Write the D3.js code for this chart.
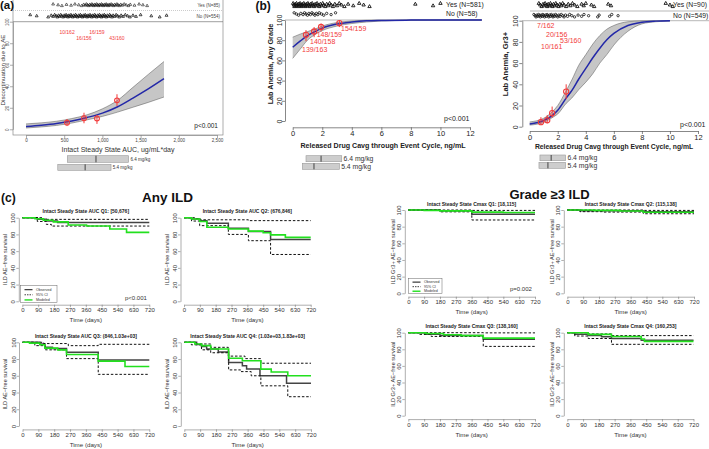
<!DOCTYPE html>
<html><head><meta charset="utf-8">
<script src="https://cdn.jsdelivr.net/npm/d3@7"></script>
<style>
body{margin:0;background:#fff}
svg{display:block;font-family:"Liberation Sans",Arial,Helvetica,sans-serif}
</style>
</head><body>
<svg id="chart" width="709" height="449"></svg>
<script>
// ---------------- DATA ----------------
// Panel (a): discontinuation due to AE vs intact steady state AUC
const aCurveX   = [0,200,400,600,800,1000,1200,1400,1600,1806];
const aCurveFit = [2.5,3.7,5.3,7.7,11,15,21,29,37.5,47];
const aCurveLo  = [1.2,2.2,3.6,5.8,8.8,12,16,20.5,25,30];
const aCurveHi  = [5,6,7.5,10,13.5,19,27,39,51,63];
const aPointX   = [537,759,929,1191];
const aPointY   = [6.2,10.3,10.1,26.9];
const aPointLo  = [3,5.6,5,21.7];
const aPointHi  = [9.6,15.4,13.3,32.6];
const aPointLabels = ["10/162","16/156","16/159","43/160"];
const aRugYes = [355,420,470,530,590,640,690,730,755,775,790,805,820,835,850,862,875,888,900,912,925,938,950,962,975,988,1000,1012,1025,1038,1050,1062,1075,1088,1100,1115,1130,1145,1160,1175,1190,1205,1220,1240,1260,1285,1310,1340,1365,1420,1480,1530,1585];
const aRugNo = [55,140,290,330,355,375,395,410,425,440,455,470,485,500,512,525,538,550,562,575,588,600,612,625,638,650,662,675,688,700,712,725,738,750,762,775,788,800,812,825,838,850,862,875,888,900,912,925,938,950,962,975,988,1000,1012,1025,1038,1050,1065,1080,1095,1110,1125,1140,1160,1180,1200,1220,1245,1270,1300,1330,1360,1400,1440,1500,1640,1750,1840];
const aRugLabels = ["Yes (N=85)","No (N=554)"];
const aDoseLabels = ["6.4 mg/kg","5.4 mg/kg"];
const aDoseStats = [[541,916,1344],[416,774,1113]];
const aTicksX = [0,500,1000,1500,2000,2500];

// Panel (b) left: lab anemia any grade
const bLX   = [0,0.5,1,1.5,2,3,4,5,6,8,10,12.8];
const bLFit = [73,79,84.5,88.5,92,96,98,99.2,99.6,99.9,100,100];
const bLLo  = [62,71,80,85.5,89.5,94,96.5,98,99,99.8,100,100];
const bLHi  = [83,86,88.5,91,94,97.5,99,99.7,99.9,100,100,100];
const bLPtX = [0.9,1.45,1.92,3.16];
const bLPtY = [85.3,88.6,93.1,96.9];
const bLPtLo = [79,83,88.5,93];
const bLPtHi = [90,93,96.5,99];
const bLPtLabels = ["139/163","140/158","148/159","154/159"];
const bLRugYes = [0.03,0.08,0.12,0.17,0.22,0.26,0.31,0.36,0.4,0.45,0.5,0.55,0.6,0.64,0.7,0.75,0.8,0.86,0.92,0.97,1.03,1.08,1.14,1.2,1.26,1.32,1.38,1.45,1.52,1.58,1.65,1.72,1.8,1.87,1.95,2.03,2.1,2.2,2.3,2.4,2.5,2.6,2.72,2.85,3.0,3.15,3.3,3.5,3.75,4.1,4.5,4.8,5.2,8.3,9.5,10.0];
const bLRugNo = [0.1,0.25,0.4,0.55,0.7,0.8,0.9,1.0,1.1,1.2,1.3,1.4,1.5,1.6,1.7,1.8,1.95,2.1,2.3,2.6,2.9];
const bLRugLabels = ["Yes (N=581)","No (N=58)"];
const bLDoseStats = [[0.9,1.92,3.32],[0.65,1.44,3.16]];

// Panel (b) right: lab anemia grade 3+
const bRX   = [0,1,1.6,2,2.6,3,3.5,4,4.5,5,5.5,6,7,8,9,10];
const bRFit = [2.5,5.8,10.5,15.5,27,34,45,55,65,74,82,88,95.5,98.5,99.6,100];
const bRLo  = [1.5,4,8.5,12,22,27,35,42,50,60,68,77,90,97,99,99.7];
const bRHi  = [4.5,8,14,20,34,44,58,68,78,86,92,95.5,99,99.8,100,100];
const bRPtX = [0.8,1.25,1.6,2.6];
const bRPtY = [4.3,6.2,12.8,33.1];
const bRPtLo = [2,3,8.5,26];
const bRPtHi = [9,11,19,40];
const bRPtLabels = ["7/162","10/161","20/156","53/160"];
const bRRugYes = [0.65,0.75,0.85,0.95,1.02,1.1,1.18,1.25,1.32,1.4,1.48,1.55,1.62,1.7,1.78,1.86,1.95,2.05,2.15,2.25,2.35,2.45,2.6,2.75,2.9,3.05,3.2,3.4,3.7,3.85,4.0,4.4,4.6,5.6,5.8,9.7,10.0,10.2];
const bRRugNo = [0.3,0.38,0.45,0.52,0.58,0.64,0.7,0.76,0.82,0.88,0.94,1.0,1.06,1.12,1.18,1.24,1.3,1.36,1.42,1.48,1.54,1.6,1.66,1.72,1.78,1.85,1.92,2.0,2.08,2.16,2.25,2.35,2.45,2.55,2.7,2.85,3.0,3.2,3.45,3.7,3.87,4.2,4.85,4.95,5.7,5.85,6.3];
const bRRugLabels = ["Yes (N=90)","No (N=549)"];
const bRDoseStats = [[0.73,1.53,2.56],[0.66,1.30,2.56]];
const bDoseLabels = ["6.4 mg/kg","5.4 mg/kg"];
const bTicksX = [0,2,4,6,8,10,12];
const pctTicks = [0,20,40,60,80,100];

// Panel (c): Kaplan-Meier, [day, % AE-free]
const kmTicksX = [0,90,180,270,360,450,540,630,720];
const anyTitles = ["Intact Steady State AUC Q1: [50,676]","Intact Steady State AUC Q2: (676,846]","Intact Steady State AUC Q3: (846,1.03e+03]","Intact Steady State AUC Q4: (1.03e+03,1.83e+03]"];
const anyQ1Obs = [[0,100],[85,98],[136,96],[200,94.4],[720,94.4]];
const anyQ1Hi  = [[0,100],[116,98],[720,98]];
const anyQ1Lo  = [[0,100],[85,95.5],[136,92],[165,90],[720,90]];
const anyQ1Mod = [[0,100],[72,98.7],[119,97],[176,95],[260,91.3],[364,90],[496,86.5],[591,82.5],[720,82.5]];
const anyQ2Obs = [[0,100],[43,98.4],[89,96.4],[130,93.5],[252,87.5],[366,83.5],[492,74],[720,74]];
const anyQ2Hi  = [[0,100],[60,99],[92,97.5],[366,96.5],[720,96.5]];
const anyQ2Lo  = [[0,100],[43,96],[89,90.5],[252,80],[366,72.5],[492,56],[720,56]];
const anyQ2Mod = [[0,100],[43,98.5],[89,95.5],[130,88.5],[252,86.5],[366,84],[450,82],[492,79.5],[576,76.5],[720,76.5]];
const anyQ3Obs = [[0,100],[98,98],[127,94],[170,92.5],[250,88],[430,79],[720,79]];
const anyQ3Hi  = [[0,100],[120,98.5],[260,96],[430,97.6],[720,97.6]];
const anyQ3Lo  = [[0,100],[70,96],[130,91],[250,80.5],[430,61.7],[720,61.7]];
const anyQ3Mod = [[0,100],[40,99],[98,97],[127,93],[200,91],[250,85.5],[430,77.5],[582,71],[720,71]];
const anyQ4Obs = [[0,100],[70,97.5],[98,95],[127,92],[193,88.5],[252,76],[330,72],[354,68],[430,60],[581,51],[720,51]];
const anyQ4Hi  = [[0,100],[70,98],[150,94],[250,83.5],[345,80.5],[435,75],[720,75]];
const anyQ4Lo  = [[0,100],[40,97],[98,91],[150,87.5],[252,67],[320,65],[380,60],[435,48],[588,35],[720,35]];
const anyQ4Mod = [[0,100],[60,98],[98,96],[150,92],[252,81],[330,78],[435,68],[494,64.5],[588,60],[720,60]];

const grTitles = ["Intact Steady State Cmax Q1: [18,115]","Intact Steady State Cmax Q2: (115,138]","Intact Steady State Cmax Q3: (138,160]","Intact Steady State Cmax Q4: (160,253]"];
const grQ1Obs = [[0,100],[180,99],[361,94.8],[720,94.8]];
const grQ1Hi  = [[0,100],[361,99.5],[720,99.5]];
const grQ1Lo  = [[0,100],[180,97.8],[361,88],[720,88]];
const grQ1Mod = [[0,100],[90,99.5],[180,99],[361,97.5],[540,97],[720,97]];
const grQ2Obs = [[0,100],[72,99],[432,98],[720,98]];
const grQ2Hi  = [[0,100],[432,99.5],[720,99.5]];
const grQ2Lo  = [[0,100],[72,98],[200,97.5],[432,95.5],[720,95.5]];
const grQ2Mod = [[0,100],[150,99.5],[300,98.8],[432,97.3],[720,97.3]];
const grQ3Obs = [[0,100],[95,98],[180,96.5],[426,92],[720,92]];
const grQ3Hi  = [[0,100],[426,99.8],[720,99.8]];
const grQ3Lo  = [[0,100],[60,98],[130,95.5],[426,83.5],[720,83.5]];
const grQ3Mod = [[0,100],[100,99],[200,97.5],[300,96.5],[426,93.5],[720,93.5]];
const grQ4Obs = [[0,100],[43,98],[119,96.5],[195,95],[252,93],[422,91],[720,91]];
const grQ4Hi  = [[0,100],[119,98.5],[252,96.5],[720,96.5]];
const grQ4Lo  = [[0,100],[43,96],[119,93],[252,86],[720,86]];
const grQ4Mod = [[0,100],[119,98],[252,95.5],[422,92.5],[440,89.5],[720,89.5]];
const legendLabels = ["Observed","95% CI","Modeled"];

// ---------------- DRAWING ----------------
const svg = d3.select("#chart");
svg.append("rect").attr("width",709).attr("height",449).attr("fill","#fff");
const FONT = '"Liberation Sans", Arial, Helvetica, sans-serif';
const RED = "#f23a3a", BLUE = "#2328a8", GREEN = "#22e01e", BAND = "#c6c6c6";

function T(g, x, y, s, fs, o = {}) {
  const t = g.append("text").attr("font-size", fs).attr("fill", o.fill || "#222").text(s);
  if (o.rot) t.attr("transform", `translate(${x},${y}) rotate(-90)`);
  else t.attr("x", x).attr("y", y);
  t.attr("text-anchor", o.anchor || "start");
  if (o.bold) t.attr("font-weight", "bold");
  return t;
}
function styleAxis(a, color, fs, tcol, sw) {
  a.attr("font-family", FONT).attr("font-size", fs);
  a.select(".domain").attr("stroke", color).attr("stroke-width", sw);
  a.selectAll(".tick line").attr("stroke", color).attr("stroke-width", sw);
  a.selectAll(".tick text").attr("fill", tcol);
}
function leftAxis(g, scale, ticks, xPos, tick, off, fs, color, tcol, sw = 0.7) {
  const a = g.append("g").attr("transform", `translate(${xPos},0)`)
    .call(d3.axisLeft(scale).tickValues(ticks).tickSize(tick).tickSizeOuter(0));
  styleAxis(a, color, fs, tcol, sw);
  a.selectAll(".tick text").attr("transform", "rotate(-90)").attr("x", 0).attr("y", -off).attr("dy", 0).attr("text-anchor", "middle");
  return a;
}
function bottomAxis(g, scale, ticks, yPos, tick, off, fs, color, tcol, sw = 0.7) {
  const a = g.append("g").attr("transform", `translate(0,${yPos})`)
    .call(d3.axisBottom(scale).tickValues(ticks).tickSize(tick).tickSizeOuter(0));
  styleAxis(a, color, fs, tcol, sw);
  a.selectAll(".tick text").attr("y", off).attr("dy", 0);
  return a;
}
function rug(g, x, vals, yc, shape, size, jit, sw) {
  const sym = d3.symbol().type(shape === "tri" ? d3.symbolTriangle : d3.symbolCircle).size(size);
  g.append("g").selectAll("path").data(vals).join("path")
    .attr("d", sym)
    .attr("transform", (d, i) => `translate(${x(d)},${yc + (((i * 7) % 5) - 2) * jit})`)
    .attr("fill", "none").attr("stroke", "#111").attr("stroke-width", sw);
}
function curveBand(g, x, y, cx, fit, lo, hi) {
  const idx = d3.range(cx.length);
  g.append("path").datum(idx)
    .attr("d", d3.area().x(i => x(cx[i])).y0(i => y(lo[i])).y1(i => y(hi[i])).curve(d3.curveMonotoneX))
    .attr("fill", BAND).attr("stroke", "none");
  const ln = arr => d3.line().x(i => x(cx[i])).y(i => y(arr[i])).curve(d3.curveMonotoneX)(idx);
  g.append("path").attr("d", ln(lo)).attr("fill", "none").attr("stroke", "#555").attr("stroke-width", 0.5);
  g.append("path").attr("d", ln(hi)).attr("fill", "none").attr("stroke", "#555").attr("stroke-width", 0.5);
  g.append("path").attr("d", ln(fit)).attr("fill", "none").attr("stroke", BLUE).attr("stroke-width", 1.5);
}
function points(g, x, y, px, py, plo, phi, r) {
  px.forEach((v, i) => {
    g.append("line").attr("x1", x(v)).attr("x2", x(v)).attr("y1", y(plo[i])).attr("y2", y(phi[i]))
      .attr("stroke", RED).attr("stroke-width", 1);
    g.append("circle").attr("cx", x(v)).attr("cy", y(py[i])).attr("r", r)
      .attr("fill", "none").attr("stroke", RED).attr("stroke-width", 1.1);
  });
}
function doseBoxes(g, x, stats, labels, rows, fs) {
  stats.forEach((s, i) => {
    const [t, b] = rows[i];
    g.append("rect").attr("x", x(s[0])).attr("y", t).attr("width", x(s[2]) - x(s[0])).attr("height", b - t)
      .attr("fill", "#cdcdcd").attr("stroke", "#9a9a9a").attr("stroke-width", 0.6);
    g.append("line").attr("x1", x(s[1])).attr("x2", x(s[1])).attr("y1", t).attr("y2", b)
      .attr("stroke", "#333").attr("stroke-width", 0.9);
    T(g, x(s[2]) + 1.8, (t + b) / 2 + fs * 0.36, labels[i], fs, { fill: "#333" });
  });
}

// ---- Panel (a) ----
(function () {
  const g = svg.append("g");
  const x = d3.scaleLinear().domain([0, 2500]).range([26, 217]);
  const y = d3.scaleLinear().domain([0, 100]).range([129.3, 21.7]);
  g.append("rect").attr("x", 13).attr("y", -1).attr("width", 210).attr("height", 136)
    .attr("fill", "none").attr("stroke", "#8a8a8a").attr("stroke-width", 0.7);
  g.append("line").attr("x1", 13).attr("x2", 223).attr("y1", 10.5).attr("y2", 10.5)
    .attr("stroke", "#aaa").attr("stroke-width", 0.6).attr("stroke-dasharray", "1,1");
  g.append("line").attr("x1", 13).attr("x2", 223).attr("y1", y(100)).attr("y2", y(100))
    .attr("stroke", "#777").attr("stroke-width", 0.7);
  curveBand(g, x, y, aCurveX, aCurveFit, aCurveLo, aCurveHi);
  points(g, x, y, aPointX, aPointY, aPointLo, aPointHi, 2.4);
  aPointLabels.forEach((s, i) => T(g, x(aPointX[i]), (i % 2 ? 38 : 32) + 1.7, s, 5, { fill: RED, anchor: "middle" }));
  leftAxis(g, y, pctTicks, 13, 3, 3.8, 4.6, "#888", "#444");
  bottomAxis(g, x, aTicksX, 135, 3, 6.8, 4.6, "#888", "#444");
  rug(g, x, aRugYes, 5, "tri", 3.5, 0.4, 0.6);
  rug(g, x, aRugNo, 16, "tri", 3.5, 0.55, 0.75);
  T(g, 220, 6.6, aRugLabels[0], 4.5, { anchor: "end", fill: "#444" });
  T(g, 220, 17.6, aRugLabels[1], 4.5, { anchor: "end", fill: "#444" });
  T(g, 218, 128.4, "p<0.001", 6.5, { anchor: "end", fill: "#222" });
  T(g, 118, 151.5, "Intact Steady State AUC, ug/mL*day", 7, { anchor: "middle", fill: "#333" });
  T(g, 5.2, 70, "Discontinuation due to AE", 6.2, { rot: true, anchor: "middle", fill: "#333" });
  doseBoxes(g, x, aDoseStats, aDoseLabels, [[155.7, 162.3], [164.3, 170.3]], 4.5);
  T(g, 0, 8.5, "(a)", 11.5, { bold: true, fill: "#111" });
})();

// ---- Panel (b) ----
function bPanel(c) {
  const g = svg.append("g");
  const x = d3.scaleLinear().domain([0, 12]).range(c.xr);
  const y = d3.scaleLinear().domain([0, 100]).range(c.yr);
  c.seps.forEach(s => g.append("line").attr("x1", s[1]).attr("x2", s[2]).attr("y1", s[0]).attr("y2", s[0])
    .attr("stroke", "#9a9a9a").attr("stroke-width", 0.7));
  curveBand(g, x, y, c.cx, c.fit, c.lo, c.hi);
  points(g, x, y, c.px, c.py, c.plo, c.phi, 2.6);
  c.labels.forEach((s, i) => T(g, c.labPos[i][0], c.labPos[i][1] + 2.5, s, 7, { fill: RED }));
  leftAxis(g, y, pctTicks, c.yAxisX, 3, c.yLabOff, 7, "#555", "#222");
  bottomAxis(g, x, bTicksX, c.xAxisY, 3, 8.8, 7.5, "#555", "#222");
  rug(g, x, c.rugYes, 5, "tri", 5, 0.8, 0.9);
  rug(g, x, c.rugNo, c.noY, "circle", 4.5, 0.6, 0.8);
  T(g, c.rugLabX, 7.4, c.rugLabels[0], 6.8, { fill: "#222" });
  T(g, c.rugLabX, c.noY + 2.4, c.rugLabels[1], 6.8, { fill: "#222" });
  T(g, c.pX, c.pY, "p<0.001", 7, { fill: "#222" });
  T(g, c.xlabX, c.xlabY, "Released Drug Cavg through Event Cycle, ng/mL", c.xlabFs, { anchor: "middle", bold: true, fill: "#222" });
  T(g, c.ylabX, 64, c.ylab, c.ylabFs, { rot: true, anchor: "middle", bold: true, fill: "#222" });
  doseBoxes(g, x, c.dose, bDoseLabels, c.doseRows, 6.8);
}
bPanel({
  xr: [292.7, 470], yr: [121, 20], seps: [[20, 285, 482]],
  cx: bLX, fit: bLFit, lo: bLLo, hi: bLHi,
  px: bLPtX, py: bLPtY, plo: bLPtLo, phi: bLPtHi, labels: bLPtLabels,
  labPos: [[302, 49], [310, 41.7], [316.7, 34.3], [341, 28.3]],
  yAxisX: 285, yLabOff: 3.4, xAxisY: 127.3,
  rugYes: bLRugYes, rugNo: bLRugNo, noY: 14, rugLabels: bLRugLabels, rugLabX: 446,
  pX: 444, pY: 120.5, xlabX: 383, xlabY: 147.5, xlabFs: 7.1,
  ylab: "Lab Anemia, Any Grade", ylabX: 272.6, ylabFs: 7.2,
  dose: bLDoseStats, doseRows: [[155.7, 161.7], [163.3, 169.3]]
});
bPanel({
  xr: [529.7, 698], yr: [126.7, 20.7], seps: [[11, 530, 709], [20.7, 522, 709]],
  cx: bRX, fit: bRFit, lo: bRLo, hi: bRHi,
  px: bRPtX, py: bRPtY, plo: bRPtLo, phi: bRPtHi, labels: bRPtLabels,
  labPos: [[537, 25.7], [541, 46.7], [546, 34], [560, 40.7]],
  yAxisX: 522.3, yLabOff: 4.1, xAxisY: 131,
  rugYes: bRRugYes, rugNo: bRRugNo, noY: 15.7, rugLabels: bRRugLabels, rugLabX: 673,
  pX: 680, pY: 126.5, xlabX: 614, xlabY: 148.5, xlabFs: 6.8,
  ylab: "Lab Anemia, Gr3+", ylabX: 508.2, ylabFs: 7.6,
  dose: bRDoseStats, doseRows: [[155, 160.7], [162.3, 168.3]]
});
T(svg, 255.5, 9.5, "(b)", 12, { bold: true, fill: "#111" });

// ---- Panel (c) ----
T(svg, 1, 202, "(c)", 12, { bold: true, fill: "#111" });
T(svg, 167.5, 202, "Any ILD", 13.5, { bold: true, anchor: "middle", fill: "#111" });
T(svg, 549.5, 199, "Grade \u22653 ILD", 13, { bold: true, anchor: "middle", fill: "#111" });

function km(p) {
  const g = svg.append("g");
  const x = d3.scaleLinear().domain([0, 720]).range(p.xr);
  const y = d3.scaleLinear().domain([0, 100]).range(p.yr);
  const line = d3.line().x(d => x(d[0])).y(d => y(d[1])).curve(d3.curveStepAfter);
  g.append("path").attr("d", line(p.obs)).attr("fill", "none").attr("stroke", "#444").attr("stroke-width", 1.5);
  [p.hi, p.lo].forEach(d => g.append("path").attr("d", line(d)).attr("fill", "none")
    .attr("stroke", "#111").attr("stroke-width", 1).attr("stroke-dasharray", "2.5,1.8"));
  g.append("path").attr("d", line(p.mod)).attr("fill", "none").attr("stroke", GREEN).attr("stroke-width", 1.6);
  const x0 = p.xr[0], y0 = p.yr[0];
  leftAxis(g, y, pctTicks, x0 - 3.5, 2.5, 3.4, 6, "#777", "#333", 0.6);
  bottomAxis(g, x, kmTicksX, y0 + 3.4, 2.5, 7.7, 6, "#777", "#333", 0.6);
  T(g, (p.xr[0] + p.xr[1]) / 2, p.yr[1] - 4.5, p.title, 5, { bold: true, anchor: "middle", fill: "#222" });
  T(g, (p.xr[0] + p.xr[1]) / 2, y0 + 21, "Time (days)", 6.2, { anchor: "middle", fill: "#333" });
  T(g, x0 - p.ylabOff, (p.yr[0] + p.yr[1]) / 2, p.ylab, 5.6, { rot: true, anchor: "middle", fill: "#333" });
  if (p.legend) {
    const L = p.legend;
    g.append("rect").attr("x", L.x).attr("y", L.y).attr("width", L.w).attr("height", L.h)
      .attr("fill", "#fff").attr("stroke", "#666").attr("stroke-width", 0.5);
    const styles = [["#444", 1.3, null], ["#111", 0.8, "1.5,1"], [GREEN, 1.4, null]];
    legendLabels.forEach((s, i) => {
      const yy = L.y + L.h * (i + 0.8) / 3.3;
      const ln = g.append("line").attr("x1", L.x + 4).attr("x2", L.x + 12).attr("y1", yy).attr("y2", yy)
        .attr("stroke", styles[i][0]).attr("stroke-width", styles[i][1]);
      if (styles[i][2]) ln.attr("stroke-dasharray", styles[i][2]);
      T(g, L.x + 15.5, yy + 1.2, s, 3.6, { fill: "#333" });
    });
  }
  if (p.pval) T(g, p.pval[0], p.pval[1], p.pval[2], 6, { fill: "#333" });
}
const anyY = "ILD AE\u2212free survival", grY = "ILD Gr3+ AE\u2212free survival";
km({ xr: [22.3, 149.3], yr: [301.3, 217.7], obs: anyQ1Obs, hi: anyQ1Hi, lo: anyQ1Lo, mod: anyQ1Mod, title: anyTitles[0], ylab: anyY, ylabOff: 15.2,
  legend: { x: 20.5, y: 285.5, w: 36.5, h: 17 }, pval: [125, 300.3, "p<0.001"] });
km({ xr: [184, 310.7], yr: [301.3, 217.7], obs: anyQ2Obs, hi: anyQ2Hi, lo: anyQ2Lo, mod: anyQ2Mod, title: anyTitles[1], ylab: anyY, ylabOff: 15.2 });
km({ xr: [22.5, 149.3], yr: [426, 342.3], obs: anyQ3Obs, hi: anyQ3Hi, lo: anyQ3Lo, mod: anyQ3Mod, title: anyTitles[2], ylab: anyY, ylabOff: 15.2 });
km({ xr: [184.3, 311], yr: [426, 342.3], obs: anyQ4Obs, hi: anyQ4Hi, lo: anyQ4Lo, mod: anyQ4Mod, title: anyTitles[3], ylab: anyY, ylabOff: 15.2 });
km({ xr: [408.3, 535], yr: [293.3, 210], obs: grQ1Obs, hi: grQ1Hi, lo: grQ1Lo, mod: grQ1Mod, title: grTitles[0], ylab: grY, ylabOff: 13,
  legend: { x: 408.5, y: 278.5, w: 33.5, h: 15 }, pval: [510, 291.3, "p=0.002"] });
km({ xr: [567.3, 694], yr: [293.3, 210], obs: grQ2Obs, hi: grQ2Hi, lo: grQ2Lo, mod: grQ2Mod, title: grTitles[1], ylab: grY, ylabOff: 13 });
km({ xr: [408.3, 535], yr: [415.7, 332.7], obs: grQ3Obs, hi: grQ3Hi, lo: grQ3Lo, mod: grQ3Mod, title: grTitles[2], ylab: grY, ylabOff: 13 });
km({ xr: [567.3, 693.5], yr: [415.7, 332.7], obs: grQ4Obs, hi: grQ4Hi, lo: grQ4Lo, mod: grQ4Mod, title: grTitles[3], ylab: grY, ylabOff: 13 });
</script>
</body></html>
